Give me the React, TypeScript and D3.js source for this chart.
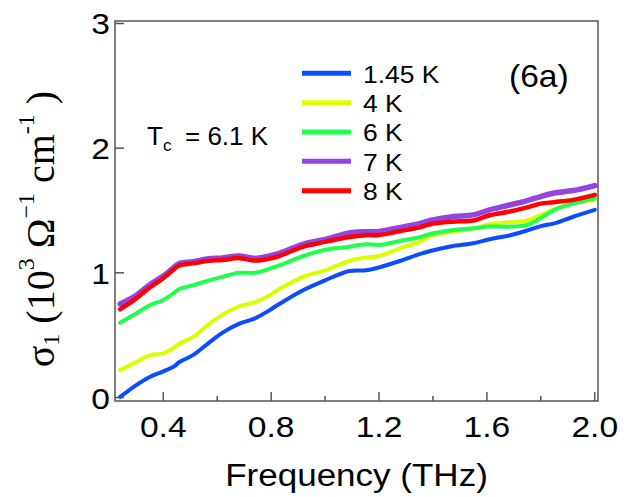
import React from "react";
import * as d3 from "d3";

const freq = [0.24, 0.30, 0.35, 0.40, 0.44, 0.46, 0.51, 0.57, 0.62, 0.68, 0.74, 0.79, 0.83, 0.92, 1.00, 1.09, 1.15, 1.20, 1.28, 1.35, 1.39, 1.47, 1.55, 1.61, 1.68, 1.75, 1.80, 1.85, 1.92, 2.00];

const s145K = [0.005, 0.10, 0.165, 0.21, 0.25, 0.285, 0.34, 0.44, 0.52, 0.59, 0.635, 0.695, 0.75, 0.862, 0.94, 1.015, 1.02, 1.044, 1.097, 1.15, 1.175, 1.213, 1.237, 1.27, 1.298, 1.34, 1.375, 1.397, 1.45, 1.505];
const s4K = [0.22, 0.285, 0.34, 0.354, 0.40, 0.433, 0.485, 0.59, 0.665, 0.73, 0.765, 0.815, 0.87, 0.97, 1.02, 1.095, 1.122, 1.135, 1.198, 1.248, 1.295, 1.33, 1.357, 1.39, 1.405, 1.42, 1.465, 1.51, 1.56, 1.585];
const s6K = [0.60, 0.675, 0.74, 0.782, 0.84, 0.87, 0.90, 0.94, 0.968, 1.0, 1.0, 1.03, 1.06, 1.135, 1.185, 1.21, 1.23, 1.223, 1.257, 1.285, 1.311, 1.342, 1.357, 1.372, 1.37, 1.385, 1.44, 1.505, 1.555, 1.598];
const s7K = [0.75, 0.82, 0.905, 0.974, 1.045, 1.076, 1.09, 1.113, 1.12, 1.135, 1.116, 1.134, 1.156, 1.23, 1.268, 1.32, 1.33, 1.332, 1.365, 1.395, 1.42, 1.45, 1.465, 1.505, 1.542, 1.58, 1.612, 1.64, 1.66, 1.70];
const s8K = [0.707, 0.795, 0.882, 0.956, 1.03, 1.06, 1.076, 1.096, 1.103, 1.118, 1.098, 1.112, 1.135, 1.21, 1.248, 1.288, 1.302, 1.303, 1.335, 1.365, 1.39, 1.41, 1.42, 1.462, 1.49, 1.525, 1.555, 1.567, 1.585, 1.625];

const seriesNames = ["1.45 K", "4 K", "6 K", "7 K", "8 K"];
const seriesValues = [s145K, s4K, s6K, s7K, s8K];
const seriesColors = ["#0a4cff", "#dcff00", "#1eff4e", "#9444e0", "#ff0000"];
const seriesWidths = [4, 4, 4, 5.5, 4.5];

const xMajorTicks = [0.4, 0.8, 1.2, 1.6, 2.0];
const xMinorTicks = [0.6, 1.0, 1.4, 1.8];
const yTicks = [0, 1, 2, 3];

const SANS = "'Liberation Sans', Arial, Helvetica, sans-serif";
const SERIF = "'Liberation Serif', 'Times New Roman', serif";

function SText({ x, y, sx = 1.12, size, anchor = "start", children }: any) {
  return (
    <g transform={`translate(${x},${y}) scale(${sx},1)`}>
      <text x={0} y={0} fontSize={size} fontFamily={SANS} textAnchor={anchor} fill="#000">
        {children}
      </text>
    </g>
  );
}

export default function App() {
  const left = 115, right = 598, top = 21, bottom = 401;
  const x = d3.scaleLinear().domain([0.221, 2.012]).range([left, right]);
  const y = d3.scaleLinear().domain([-0.028, 3.02]).range([bottom, top]);

  const line = d3
    .line<[number, number]>()
    .x((d) => x(d[0]))
    .y((d) => y(d[1]))
    .curve(d3.curveCatmullRom.alpha(0.5));

  const axisColor = "#555";

  return (
    <svg
      width={624}
      height={497}
      style={{ position: "absolute", left: 0, top: 0, background: "#fff" }}
    >
      <rect x={0} y={0} width={624} height={497} fill="#fff" />
      {seriesValues.map((vals, i) => (
        <path
          key={seriesNames[i]}
          d={line(freq.map((f, j) => [f, vals[j]] as [number, number])) || ""}
          fill="none"
          stroke={seriesColors[i]}
          strokeWidth={seriesWidths[i]}
          strokeLinejoin="round"
          strokeLinecap="round"
        />
      ))}
      <rect x={left} y={top} width={right - left} height={bottom - top} fill="none" stroke={axisColor} strokeWidth={1.5} />
      {xMajorTicks.map((t) => (
        <line key={"xM" + t} x1={x(t)} x2={x(t)} y1={bottom} y2={bottom - 9} stroke={axisColor} strokeWidth={1.5} />
      ))}
      {xMinorTicks.map((t) => (
        <line key={"xm" + t} x1={x(t)} x2={x(t)} y1={bottom} y2={bottom - 5} stroke={axisColor} strokeWidth={1.5} />
      ))}
      {yTicks.map((t) => (
        <line key={"y" + t} x1={left} x2={left + 9} y1={y(t)} y2={y(t)} stroke={axisColor} strokeWidth={1.5} />
      ))}
      {xMajorTicks.map((t) => (
        <SText key={"xl" + t} x={x(t)} y={437} size={30} anchor="middle">
          {t.toFixed(1)}
        </SText>
      ))}
      {yTicks.map((t) => (
        <SText key={"yl" + t} x={110} y={y(t) + 11} size={30} anchor="end">
          {String(t)}
        </SText>
      ))}
      <SText x={(left + right) / 2} y={486} size={31} sx={1.13} anchor="middle">
        Frequency (THz)
      </SText>
      <text
        transform="translate(54,229) rotate(-90)"
        textAnchor="middle"
        fontFamily={SERIF}
        fontSize={40}
        fill="#000"
      >
        σ
        <tspan fontSize={24} dy={5}>1</tspan>
        <tspan dy={-5}> (10</tspan>
        <tspan fontSize={24} dy={-20}>3</tspan>
        <tspan dy={20}> Ω</tspan>
        <tspan fontSize={24} dy={-20}>−1</tspan>
        <tspan dy={20}> cm</tspan>
        <tspan fontSize={24} dy={-20}>-1</tspan>
        <tspan dy={20}> )</tspan>
      </text>
      <text x={147} y={145} fontFamily={SANS} fontSize={26} fill="#000">
        T<tspan fontSize={17} dy={6}>c</tspan>
      </text>
      <text x={185} y={145} fontFamily={SANS} fontSize={26} fill="#000">
        = 6.1 K
      </text>
      <SText x={509} y={87} size={32} sx={1.05}>
        (6a)
      </SText>
      {seriesNames.map((name, i) => {
        const ly = 73.3 + i * 29.35;
        return (
          <g key={"lg" + name}>
            <line x1={302} x2={351} y1={ly} y2={ly} stroke={seriesColors[i]} strokeWidth={5} />
            <SText x={363} y={ly + 9.3} size={24} sx={1.1}>
              {name}
            </SText>
          </g>
        );
      })}
    </svg>
  );
}
